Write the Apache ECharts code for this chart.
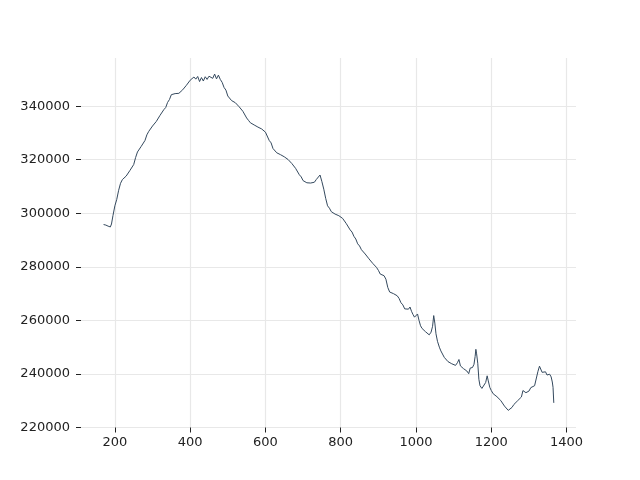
<!DOCTYPE html>
<html>
<head>
<meta charset="utf-8">
<script src="https://cdn.jsdelivr.net/npm/echarts@6/dist/echarts.min.js"></script>
<style>html,body{margin:0;padding:0;background:#fff;}#chart{width:640px;height:480px;}</style>
</head>
<body>
<div id="chart"></div>
<script>
const xValues = [170,173,176,179,182,185,188,191,195,200,205,210,215,220,225,230,235,240,245,250,255,260,265,270,275,280,285,290,295,300,305,310,315,320,325,330,335,340,345,350,355,360,365,370,375,380,385,390,395,400,405,410,415,420,425,430,435,440,445,450,455,460,465,470,475,480,485,490,495,500,505,510,515,520,525,530,535,540,545,550,555,560,565,570,575,580,585,590,595,600,605,610,615,620,625,630,635,640,645,650,655,660,665,670,675,680,685,690,695,700,705,710,715,720,725,730,735,740,745,750,755,760,765,770,775,780,785,790,795,800,805,810,815,820,825,830,835,840,845,850,855,860,865,870,875,880,885,890,895,900,905,910,915,920,925,930,935,940,945,950,955,960,965,970,975,980,984,988,992,996,1000,1004,1008,1012,1016,1020,1025,1030,1035,1040,1044,1047,1050,1053,1057,1062,1066,1070,1075,1080,1085,1090,1095,1100,1105,1110,1114,1118,1122,1126,1130,1135,1140,1144,1150,1154,1157,1159,1161,1164,1167,1170,1175,1180,1185,1189,1192,1196,1200,1205,1210,1215,1220,1225,1230,1235,1240,1245,1250,1255,1260,1265,1270,1275,1280,1284,1288,1292,1296,1300,1305,1310,1315,1320,1324,1328,1331,1335,1340,1344,1348,1351,1355,1359,1362,1364,1366];
const yValues = [295800,296300,295600,295900,295200,295600,294900,296000,299200,302800,305200,308600,311200,312600,312900,313900,314300,316000,316600,318200,320800,322900,323600,325000,325300,327200,329300,330600,330800,332600,332500,334300,335000,336600,337200,338700,339500,341400,342500,344300,343600,344700,344000,344800,345000,346100,346300,347800,348300,349700,349800,350900,350100,351100,349200,350700,349400,351000,350000,351200,351400,350400,352000,350200,351600,350000,348900,347000,346000,343800,343100,342100,342000,341300,341000,339800,339600,338100,337400,335600,334700,333800,333900,333000,332800,332200,332100,331500,331400,330300,329600,327200,326300,324200,323500,322600,322400,321900,322000,321100,321300,320100,319800,318600,318400,316800,316100,314400,313600,312200,312100,311400,312000,311300,311900,311600,312600,313200,314300,311800,309000,305600,302800,301900,300600,300400,299700,299700,299100,298900,298100,297400,296100,295400,293800,293000,291400,290400,288600,287800,286400,286000,284800,284400,283000,282800,281300,281000,279800,278700,277300,277000,276700,275400,272300,270600,270700,270000,270000,269200,268200,266600,265800,264300,263800,264200,265000,263400,262200,261200,261000,262400,260000,258000,257000,256600,255800,255600,254600,255600,257800,261800,259000,255000,252200,250000,248600,248000,246200,245500,244600,244400,243800,243900,243200,244200,245400,243000,242400,242000,242000,241100,240100,242200,242400,243600,246500,249200,247500,244000,238000,235600,234600,235200,236800,239300,237400,235000,233800,232600,232400,231500,231300,230100,229400,228000,227300,226400,227000,227500,228600,229100,230000,230300,231400,233800,234300,233000,233200,233600,234900,235000,235600,236200,241000,242900,242200,240600,239900,240800,239600,240300,239900,238900,237000,235000,229200];
const xTicks = [200,400,600,800,1000,1200,1400];
const yTicks = [220000,240000,260000,280000,300000,320000,340000];

const seriesData = xValues.map((x, i) => [x, yValues[i]]);
const gridColor = '#e8e8e8';
const labelStyle = {color: '#222', fontFamily: 'DejaVu Sans', fontSize: 13, formatter: v => String(v)};

const chart = echarts.init(document.getElementById('chart'), null, {renderer: 'canvas'});
chart.setOption({
  animation: false,
  backgroundColor: '#ffffff',
  grid: {left: 81, right: 64, top: 58, bottom: 52.5, containLabel: false},
  xAxis: {
    type: 'value', min: 110, max: 1425,
    axisLine: {show: false},
    axisTick: {show: true, inside: false, length: 5, customValues: xTicks, lineStyle: {color: '#222', width: 1}},
    axisLabel: Object.assign({customValues: xTicks, margin: 9}, labelStyle),
    splitLine: {show: true, lineStyle: {color: gridColor, width: 1.2}}
  },
  yAxis: {
    type: 'value', min: 220000, max: 358000,
    axisLine: {show: false},
    axisTick: {show: true, inside: false, length: 5, customValues: yTicks, lineStyle: {color: '#222', width: 1}},
    axisLabel: Object.assign({customValues: yTicks, margin: 11}, labelStyle),
    splitLine: {show: true, lineStyle: {color: gridColor, width: 1.2}}
  },
  series: [{
    type: 'line', data: seriesData, showSymbol: false, symbol: 'none',
    lineStyle: {color: '#34495e', width: 1}, smooth: false
  }]
});
</script>
</body>
</html>
